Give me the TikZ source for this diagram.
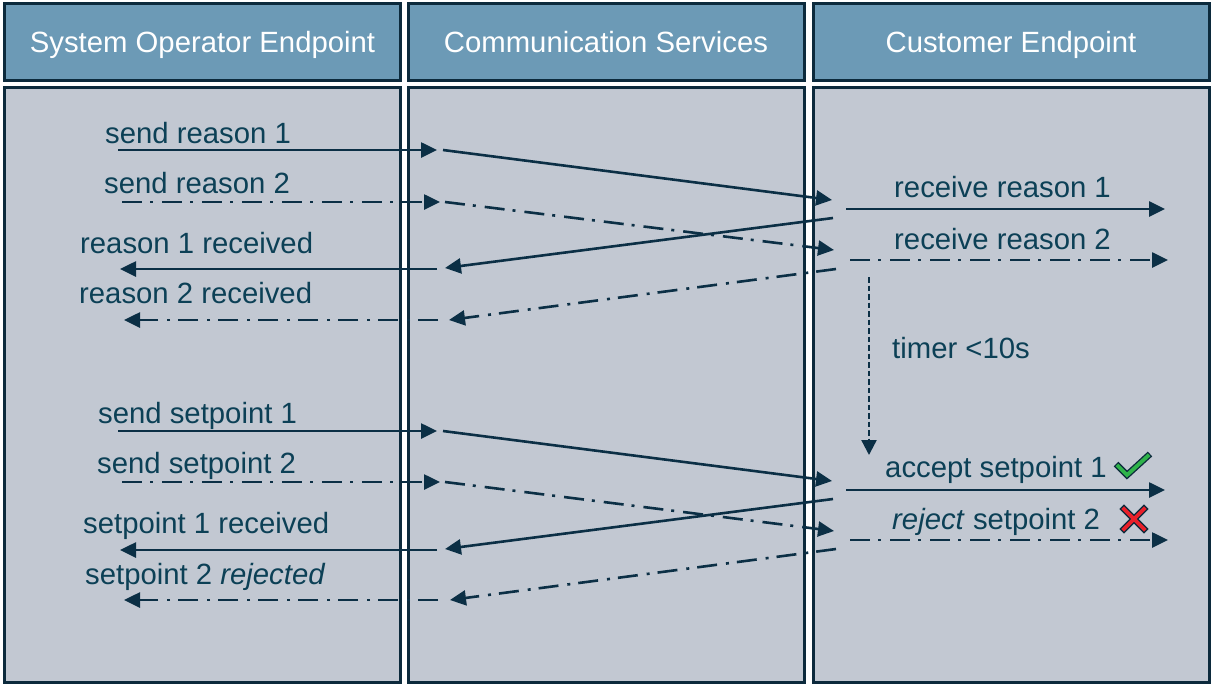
\documentclass[tikz,border=0pt]{standalone}
\usepackage{fontspec}
\setmainfont{Liberation Sans}
\usetikzlibrary{arrows.meta}
\definecolor{headfill}{HTML}{6C9AB6}
\definecolor{lanefill}{HTML}{C2C8D2}
\definecolor{boxline}{HTML}{0C2A3C}
\definecolor{textc}{HTML}{0C4056}
\definecolor{arrowc}{HTML}{0B2F45}
\definecolor{okgreen}{HTML}{2FB34A}
\definecolor{badred}{HTML}{E8202A}
\tikzset{
  big/.style={font=\fontsize{29.3pt}{34pt}\selectfont},
  lanebox/.style={draw=boxline, line width=3pt, fill=lanefill, inner sep=0pt,
    minimum width=396pt, minimum height=595pt},
  headbox/.style={draw=boxline, line width=3pt, fill=headfill, inner sep=0pt,
    minimum width=396pt, minimum height=77pt, text=white, big,
    text height=21pt, text depth=0pt},
  lbl/.style={text=textc, anchor=base west, inner sep=0pt, big},
  msg/.style={draw=arrowc, line width=2.6pt, -{Triangle[length=16pt,width=15pt]}},
  dashdot/.style={dash pattern=on 20pt off 8pt on 3pt off 9pt},
  timerline/.style={draw=arrowc, line width=2.4pt, dash pattern=on 5.5pt off 3pt,
    -{Triangle[length=15pt,width=15pt]}},
}
\begin{document}
\begin{tikzpicture}[x=1pt,y=-1pt]
\useasboundingbox (0,0) rectangle (1212,686);
\fill[white] (0,0) rectangle (1212,686);

% swim lanes and their headers
\node[lanebox] (lane1) at (202.5,385) {};
\node[lanebox] (lane2) at (606,385) {};
\node[lanebox] (lane3) at (1011,385) {};
\node[headbox] (head1) at (202.5,42) {System Operator Endpoint};
\node[headbox] (head2) at (606,42) {Communication Services};
\node[headbox] (head3) at (1011,42) {Customer Endpoint};

% ---- reasons ----
\coordinate (r1a) at (118,150);  \coordinate (r1b) at (437,150);
\coordinate (r1c) at (443,150);  \coordinate (r1d) at (832,200);
\coordinate (r1e) at (846,209);  \coordinate (r1f) at (1165,209);
\coordinate (r2a) at (122,202);  \coordinate (r2b) at (440,202);
\coordinate (r2c) at (445,202);  \coordinate (r2d) at (834,250);
\coordinate (r2e) at (850,260);  \coordinate (r2f) at (1168,260);
\coordinate (q1a) at (833,218);  \coordinate (q1b) at (445,268);
\coordinate (q1c) at (437,269);  \coordinate (q1d) at (120,269);
\coordinate (q2a) at (836,269);  \coordinate (q2b) at (449,320);
\coordinate (q2c) at (438,320);  \coordinate (q2d) at (124,320);

\node[lbl] (tr1) at (105,143) {send reason 1};
\node[lbl] (tr2) at (104,193) {send reason 2};
\node[lbl] (tq1) at (80,253) {reason 1 received};
\node[lbl] (tq2) at (79,303) {reason 2 received};
\node[lbl] (tc1) at (894,197) {receive reason 1};
\node[lbl] (tc2) at (894,249) {receive reason 2};

\draw[msg] (r1a) -- (r1b);
\draw[msg] (r1c) -- (r1d);
\draw[msg] (r1e) -- (r1f);
\draw[msg,dashdot] (r2a) -- (r2b);
\draw[msg,dashdot] (r2c) -- (r2d);
\draw[msg,dashdot] (r2e) -- (r2f);
\draw[msg] (q1a) -- (q1b);
\draw[msg] (q1c) -- (q1d);
\draw[msg,dashdot] (q2a) -- (q2b);
\draw[msg,dashdot] (q2c) -- (q2d);

% ---- timer ----
\coordinate (t0) at (869,277);
\coordinate (t1) at (869,455);
\draw[timerline] (t0) -- (t1);
\node[lbl] (ttimer) at (892,358) {timer <10s};

% ---- setpoints ----
\coordinate (s1a) at (118,431);  \coordinate (s1b) at (437,431);
\coordinate (s1c) at (443,431);  \coordinate (s1d) at (832,481);
\coordinate (s1e) at (846,490);  \coordinate (s1f) at (1165,490);
\coordinate (s2a) at (122,482);  \coordinate (s2b) at (440,482);
\coordinate (s2c) at (445,482);  \coordinate (s2d) at (834,531);
\coordinate (s2e) at (850,540);  \coordinate (s2f) at (1168,540);
\coordinate (p1a) at (833,499);  \coordinate (p1b) at (445,549);
\coordinate (p1c) at (437,550);  \coordinate (p1d) at (120,550);
\coordinate (p2a) at (836,549);  \coordinate (p2b) at (450,600);
\coordinate (p2c) at (438,600);  \coordinate (p2d) at (124,600);

\node[lbl] (ts1) at (98,423) {send setpoint 1};
\node[lbl] (ts2) at (97,473) {send setpoint 2};
\node[lbl] (tp1) at (83,533) {setpoint 1 received};
\node[lbl] (tp2) at (85,584) {setpoint 2 \textit{rejected}};
\node[lbl] (ta1) at (885,477) {accept setpoint 1};
\node[lbl] (ta2) at (892,529) {\textit{reject} setpoint 2};

\draw[msg] (s1a) -- (s1b);
\draw[msg] (s1c) -- (s1d);
\draw[msg] (s1e) -- (s1f);
\draw[msg,dashdot] (s2a) -- (s2b);
\draw[msg,dashdot] (s2c) -- (s2d);
\draw[msg,dashdot] (s2e) -- (s2f);
\draw[msg] (p1a) -- (p1b);
\draw[msg] (p1c) -- (p1d);
\draw[msg,dashdot] (p2a) -- (p2b);
\draw[msg,dashdot] (p2c) -- (p2d);

% check mark and cross
\draw[boxline, line width=6.5pt, line join=miter, line cap=butt]
  (1116,464) -- (1127,475) -- (1150,454);
\draw[okgreen, line width=3.8pt, line join=miter, line cap=butt]
  (1116.9,464.9) -- (1127,475) -- (1149.1,454.8);
\draw[boxline, line width=6.5pt, line cap=rect]
  (1124,509) -- (1144,529) (1144,509) -- (1124,529);
\draw[badred, line width=3.8pt, line cap=rect]
  (1124,509) -- (1144,529) (1144,509) -- (1124,529);
\end{tikzpicture}
\end{document}
